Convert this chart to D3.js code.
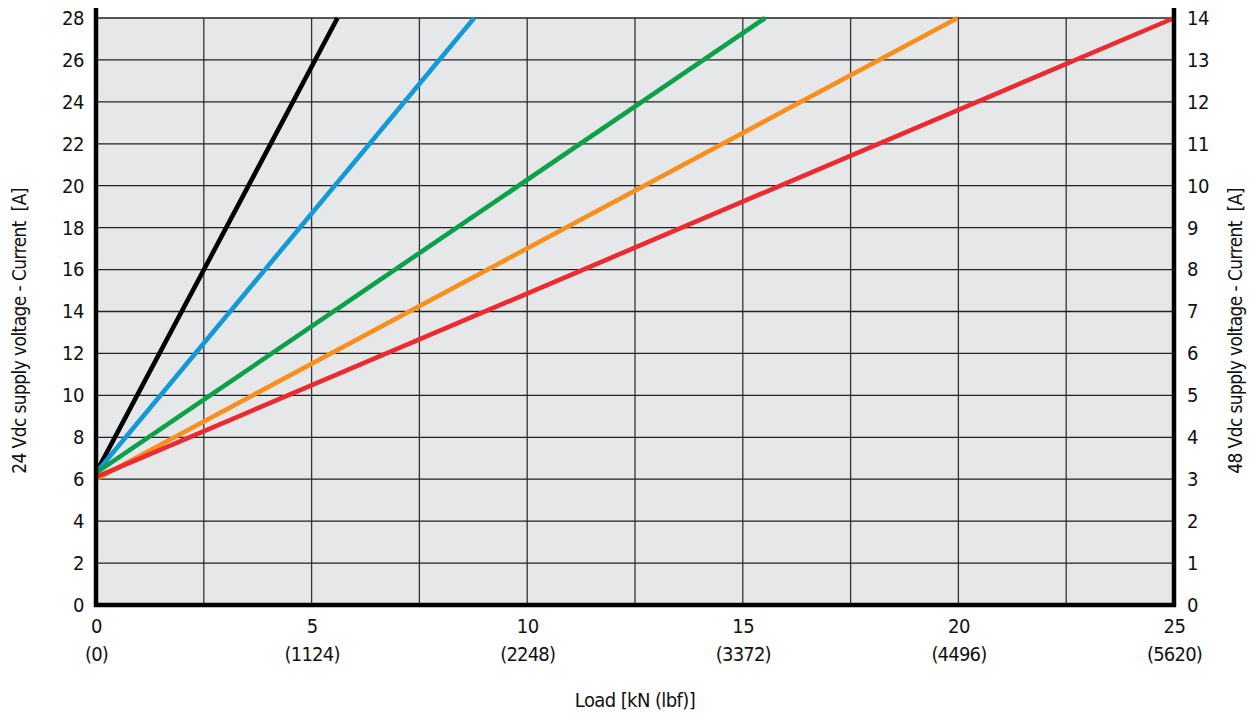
<!doctype html>
<html>
<head>
    <title>Load vs current</title>
    <style>
        body { margin: 0; background: #fff; }
        text { font-family: "Liberation Sans Narrow", "DejaVu Sans Condensed", sans-serif; fill: #111; }
    </style>
</head>
<body>
    <script src="https://d3js.org/d3.v7.min.js"></script>
    <script>
    // x ticks: load in kN and in lbf
    var loadTicks = [0, 5, 10, 15, 20, 25];
    var lbfLabels = ["(0)", "(1124)", "(2248)", "(3372)", "(4496)", "(5620)"];
    var leftTicks = d3.range(0, 29, 2);
    var rightTicks = d3.range(0, 15, 1);

    // each series: [start, end] load (kN) and current at 24 Vdc (A)
    var seriesLoad = [[0, 5.6], [0, 8.77], [0, 15.52], [0, 19.98], [0, 25]];
    var seriesCurrent = [[6.3, 28], [6.3, 28], [6.3, 28], [6.0, 28], [6.1, 28]];
    var seriesColors = ["#000000", "#129ad8", "#0ba14b", "#f7901e", "#ed2a2f"];

    var width = 1255, height = 717;
    var margin = { top: 18, right: 81, bottom: 112, left: 96 };

    var svg = d3.select("body")
        .append("svg")
        .attr("width", width)
        .attr("height", height);

    var x = d3.scaleLinear().domain([0, 25]).range([margin.left, width - margin.right]);
    var y = d3.scaleLinear().domain([0, 28]).range([height - margin.bottom, margin.top]);
    var y2 = d3.scaleLinear().domain([0, 14]).range([height - margin.bottom, margin.top]);

    // plot background
    svg.append("rect")
        .attr("x", x(0))
        .attr("y", y(28))
        .attr("width", x(25) - x(0))
        .attr("height", y(0) - y(28))
        .attr("fill", "#e6e7e8");

    // grid
    svg.append("g").selectAll("line")
        .data(d3.range(2.5, 25, 2.5))
        .join("line")
        .attr("x1", d => x(d)).attr("x2", d => x(d))
        .attr("y1", y(0)).attr("y2", y(28))
        .attr("stroke", "#333").attr("stroke-width", 1.3);

    svg.append("g").selectAll("line")
        .data(d3.range(2, 29, 2))
        .join("line")
        .attr("x1", x(0)).attr("x2", x(25))
        .attr("y1", d => y(d)).attr("y2", d => y(d))
        .attr("stroke", "#222").attr("stroke-width", 1.3);

    // series lines
    var line = d3.line().x(d => x(d[0])).y(d => y(d[1]));
    seriesLoad.forEach(function (loads, i) {
        var pts = loads.map((l, j) => [l, seriesCurrent[i][j]]);
        svg.append("path")
            .datum(pts)
            .attr("d", line)
            .attr("fill", "none")
            .attr("stroke", seriesColors[i])
            .attr("stroke-width", 4.6);
    });

    // thick axis lines
    svg.append("line")
        .attr("x1", x(0)).attr("x2", x(0))
        .attr("y1", 8).attr("y2", y(0) + 2)
        .attr("stroke", "#000").attr("stroke-width", 4.5);
    svg.append("line")
        .attr("x1", x(25)).attr("x2", x(25))
        .attr("y1", 8).attr("y2", y(0) + 2)
        .attr("stroke", "#000").attr("stroke-width", 4.5);
    svg.append("line")
        .attr("x1", x(0) - 2).attr("x2", x(25) + 2)
        .attr("y1", y(0)).attr("y2", y(0))
        .attr("stroke", "#000").attr("stroke-width", 4.5);

    // left axis labels
    var left = svg.append("g")
        .attr("transform", "translate(" + (x(0) - 4) + ",0)")
        .call(d3.axisLeft(y).tickValues(leftTicks).tickSize(0).tickPadding(8));
    left.select(".domain").remove();
    left.selectAll("text").style("font-size", "20px").style("letter-spacing", "-0.5px").style("font-family", null);

    // right axis labels
    var right = svg.append("g")
        .attr("transform", "translate(" + (x(25) + 4) + ",0)")
        .call(d3.axisRight(y2).tickValues(rightTicks).tickSize(0).tickPadding(9));
    right.select(".domain").remove();
    right.selectAll("text").style("font-size", "20px").style("letter-spacing", "-0.5px").style("font-family", null);

    // bottom axis labels, two lines
    var bottom = svg.append("g")
        .attr("transform", "translate(0," + (y(0) + 4) + ")")
        .call(d3.axisBottom(x).tickValues(loadTicks).tickSize(0).tickPadding(10));
    bottom.select(".domain").remove();
    bottom.selectAll("text").style("font-size", "20px").style("letter-spacing", "-0.5px").style("font-family", null);
    bottom.selectAll(".tick")
        .append("text")
        .attr("y", 52)
        .attr("fill", "#111")
        .attr("text-anchor", "middle")
        .style("font-size", "20px")
        .style("letter-spacing", "-0.8px")
        .text((d, i) => lbfLabels[i]);

    // axis titles
    svg.append("text")
        .attr("x", (x(0) + x(25)) / 2)
        .attr("y", 707)
        .attr("text-anchor", "middle")
        .style("font-size", "20px")
        .style("letter-spacing", "-0.6px")
        .text("Load [kN (lbf)]");

    svg.append("text")
        .attr("transform", "translate(26," + 331 + ") rotate(-90)")
        .attr("text-anchor", "middle")
        .style("font-size", "19px")
        .style("letter-spacing", "-0.6px")
        .style("white-space", "pre")
        .text("24 Vdc supply voltage - Current  [A]");

    svg.append("text")
        .attr("transform", "translate(1242," + 331 + ") rotate(-90)")
        .attr("text-anchor", "middle")
        .style("font-size", "19px")
        .style("letter-spacing", "-0.6px")
        .style("white-space", "pre")
        .text("48 Vdc supply voltage - Current  [A]");
    </script>
</body>
</html>
